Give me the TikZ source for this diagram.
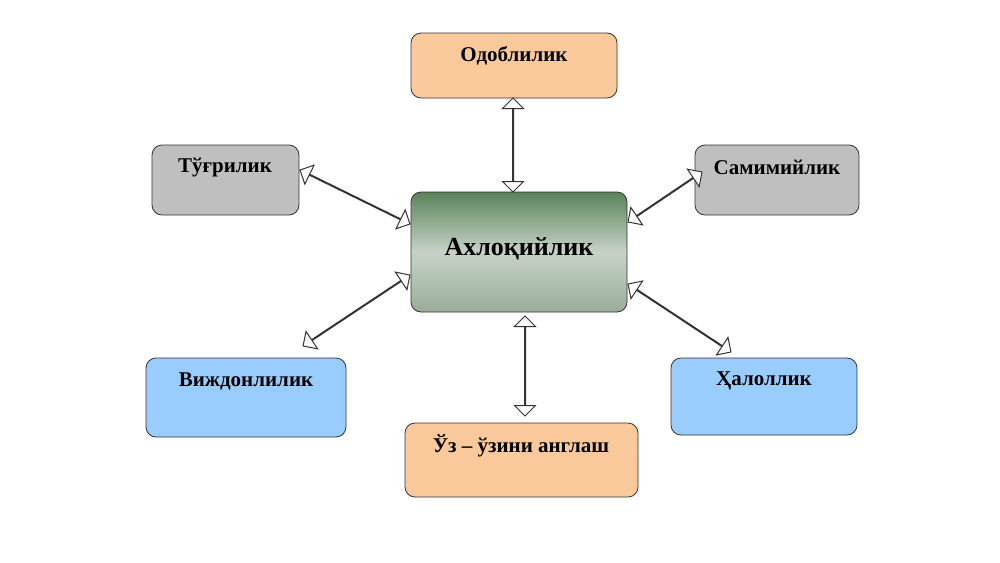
\documentclass[tikz,border=0pt]{standalone}
\usepackage{fontspec}
\setmainfont{Liberation Serif}
\usetikzlibrary{calc,shapes.arrows}
\definecolor{peach}{HTML}{FAC99B}
\definecolor{greybox}{HTML}{BFBFBF}
\definecolor{skyblue}{HTML}{99CCFF}
\newcommand{\twoway}[2]{%
  \path let \p1=($(#2)-(#1)$), \n1={veclen(\x1,\y1)}, \n2={atan2(\y1,\x1)} in
    node[dblarrow, minimum height=\n1, rotate=\n2] at ($(#1)!0.5!(#2)$) {};}
\begin{document}
\begin{tikzpicture}[x=0.5pt,y=-0.5pt,
  box/.style = {draw=black!80, rounded corners=5pt, font=\fontsize{10.5}{12}\selectfont\bfseries},
  dblarrow/.style = {draw=black!80, fill=white, shape=double arrow, minimum width=10pt,
    double arrow head extend=5pt, inner sep=0pt, line width=0.5pt}]
  \useasboundingbox (0,0) rectangle (1000,562);
  % boxes
  \draw[box, fill=peach] (411,33) rectangle (617,98);
  \node[font=\fontsize{10.5}{12}\selectfont\bfseries] (odob) at (514,56) {Одоблилик};
  \draw[box, fill=greybox] (152,145) rectangle (299,215);
  \node[font=\fontsize{10.5}{12}\selectfont\bfseries] (tugri) at (225,168) {Тўғрилик};
  \draw[box, fill=greybox] (695,145) rectangle (859,215);
  \node[font=\fontsize{10.5}{12}\selectfont\bfseries] (samim) at (777,167) {Самимийлик};
  \draw[box, fill=skyblue] (146,358) rectangle (346,437);
  \node[font=\fontsize{10.5}{12}\selectfont\bfseries] (vijdon) at (246,381) {Виждонлилик};
  \draw[box, fill=skyblue] (671,358) rectangle (857,435);
  \node[font=\fontsize{10.5}{12}\selectfont\bfseries] (halol) at (764,381) {Ҳалоллик};
  \draw[box, fill=peach] (405,423) rectangle (638,497);
  \node[font=\fontsize{10.5}{12}\selectfont\bfseries] (uzini) at (521,446) {Ўз – ўзини англаш};
  \draw[box, top color=green!25!black!65, bottom color=green!20!black!40, middle color=green!20!black!22]
    (411,192) rectangle (627,312);
  \node[font=\fontsize{13}{15}\selectfont\bfseries] (axloq) at (519,249) {Ахлоқийлик};
  % arrow ends
  \coordinate (a1) at (513,98);  \coordinate (b1) at (513,192);
  \coordinate (a2) at (525,316); \coordinate (b2) at (525,416);
  \coordinate (a3) at (300,170); \coordinate (b3) at (410,224);
  \coordinate (a4) at (628,222); \coordinate (b4) at (702,172);
  \coordinate (a5) at (303,346); \coordinate (b5) at (410,275);
  \coordinate (a6) at (628,284); \coordinate (b6) at (731,352);
  \twoway{a1}{b1}
  \twoway{a2}{b2}
  \twoway{a3}{b3}
  \twoway{a4}{b4}
  \twoway{a5}{b5}
  \twoway{a6}{b6}
\end{tikzpicture}
\end{document}
